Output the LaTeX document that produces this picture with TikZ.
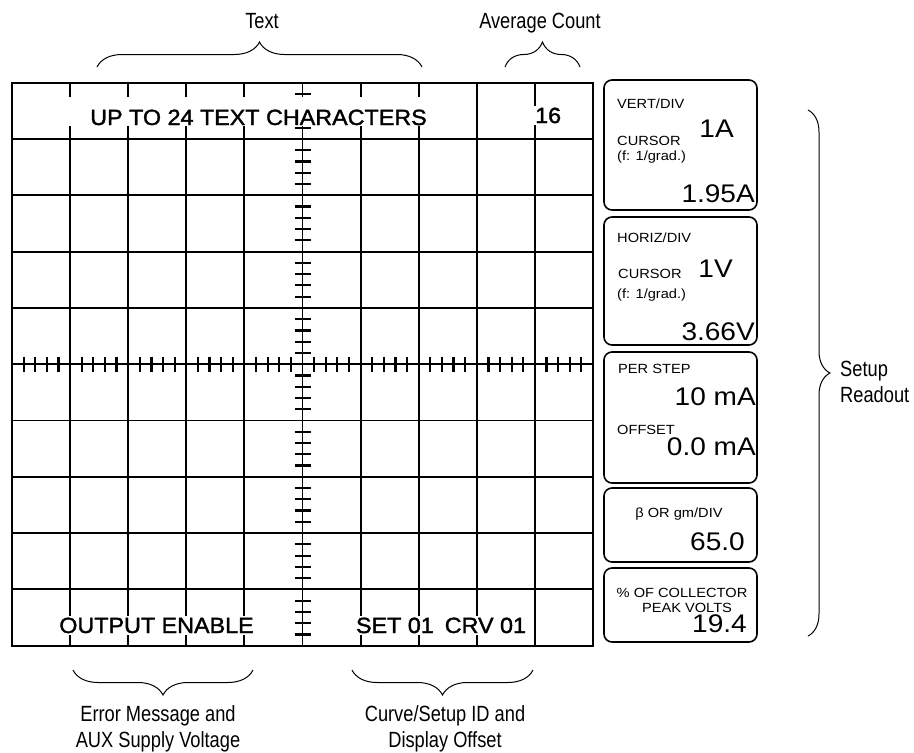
\documentclass[tikz,border=0pt]{standalone}
\usepackage{fontspec}
\setmainfont{Liberation Sans}
\newfontfamily\readfont[FakeStretch=1.1]{Liberation Sans}
\newfontfamily\screenfont[FakeStretch=1.06,FakeBold=1.6]{Liberation Sans}
\newfontfamily\notefont[FakeStretch=0.83]{Liberation Sans}
\usepackage{tikz}
\usetikzlibrary{decorations.pathreplacing,positioning,calc}
\newcommand{\gridsize}{\screenfont\fontsize{22}{24}\selectfont}
\newcommand{\smallread}{\readfont\fontsize{13.3}{15}\selectfont}
\newcommand{\bigread}{\readfont\fontsize{25.5}{28}\selectfont}
\newcommand{\notesize}{\notefont\fontsize{22}{26}\selectfont}
\tikzset{
  gridline/.style={line width=1.9pt},
  tickline/.style={line width=2.2pt},
  readbox/.style={draw,line width=1.6pt,rounded corners=8pt,minimum width=153pt,inner sep=0pt},
  gridtext/.style={fill=white,inner xsep=3pt,inner ysep=2pt,font=\gridsize,anchor=base},
  smalltext/.style={inner sep=0pt,font=\smallread,anchor=base west},
  bigtext/.style={inner sep=0pt,font=\bigread,anchor=base east},
  bracepath/.style={decorate,decoration={brace,amplitude=#1},line width=1pt},
  notetext/.style={inner sep=0pt,font=\notesize,anchor=base,align=center},
}

\begin{document}
\begin{tikzpicture}[x=1pt,y=-1pt]
  \useasboundingbox (0,0) rectangle (914,753);
  % Raster 10 x 10
  \foreach \i in {0,...,10}
    \draw[gridline] ({12+58.1*\i},82.7) -- ({12+58.1*\i},646);
  \foreach \j in {0,...,10}
    \draw[gridline] (12,{82.7+56.3*\j}) -- (593,{82.7+56.3*\j});
  \draw[line width=2.4pt] (12,82.7) rectangle (593,646);
  % Teilstriche auf den Mittelachsen
  \foreach \i in {0,...,9}
    \foreach \k in {1,...,4}{
      \draw[tickline] ({12+58.1*(\i+\k/5)},356.5) -- ++(0,15);
      \draw[tickline] (294.5,{82.7+56.3*(\i+\k/5)}) -- ++(16,0);
    }
  % Texte im Raster
  \node[gridtext,text height=28pt,text depth=1pt,inner xsep=21pt,inner ysep=0pt] (uptext) at (258.5,125) {UP TO 24 TEXT CHARACTERS};
  \node[gridtext,anchor=base west] (avgnum) at (532,123) {16};
  \node[gridtext] (outtext) at (156.5,633) {OUTPUT ENABLE};
  \node[gridtext] (settext) at (441,633) {SET 01\hspace{0.5em}CRV 01};
  % Anzeigefelder rechts
  \node[readbox,minimum height=130pt] (vertbox) at (680.5,145) {};
  \node[smalltext] (vertlbl) at (617,108) {VERT/DIV};
  \node[bigtext] (vertval) at (734,137) {1A};
  \node[smalltext] (vertcur) at (617,145) {CURSOR};
  \node[smalltext] (vertgrad) at (617,160) {(f: 1/grad.)};
  \node[bigtext] (vertread) at (755,202) {1.95A};

  \node[readbox,minimum height=128pt] (horbox) at (680.5,281) {};
  \node[smalltext] (horlbl) at (617,242) {HORIZ/DIV};
  \node[bigtext] (horval) at (733,277) {1V};
  \node[smalltext] (horcur) at (618,278) {CURSOR};
  \node[smalltext] (horgrad) at (617,298) {(f: 1/grad.)};
  \node[bigtext] (horread) at (755,340) {3.66V};

  \node[readbox,minimum height=131pt] (stepbox) at (680.5,417.5) {};
  \node[smalltext] (steplbl) at (618,373) {PER STEP};
  \node[bigtext] (stepval) at (756,405) {10 mA};
  \node[smalltext] (offlbl) at (617,434) {OFFSET};
  \node[bigtext] (offval) at (756,455) {0.0 mA};

  \node[readbox,minimum height=74pt] (betabox) at (680.5,525) {};
  \node[smalltext,anchor=base] (betalbl) at (679,517) {β OR gm/DIV};
  \node[bigtext] (betaval) at (745,550) {65.0};

  \node[readbox,minimum height=74pt] (peakbox) at (680.5,605) {};
  \node[smalltext,anchor=base] (peaklbl) at (682,597) {\% OF COLLECTOR};
  \node[smalltext,anchor=base] (peaklbl2) at (687,612) {PEAK VOLTS};
  \node[bigtext] (peakval) at (747,632) {19.4};
  % Klammern und Beschriftungen
  \coordinate (tb1) at (97,67);   \coordinate (tb2) at (422,67);
  \coordinate (ab1) at (505,67);  \coordinate (ab2) at (580,67);
  \coordinate (eb1) at (253,670); \coordinate (eb2) at (73,670);
  \coordinate (cb1) at (533,670); \coordinate (cb2) at (352,670);
  \coordinate (sb1) at (808,110); \coordinate (sb2) at (808,636);
  \draw[bracepath=25pt] (tb1) -- (tb2);
  \draw[bracepath=25pt] (ab1) -- (ab2);
  \draw[bracepath=25pt] (eb1) -- (eb2);
  \draw[bracepath=25pt] (cb1) -- (cb2);
  \draw[bracepath=22pt] (sb1) -- (sb2);
  \node[notetext] (textlbl) at (262,28) {Text};
  \node[notetext] (avglbl) at (540,28) {Average Count};
  \node[notetext] (errlbl) at (158,747) {Error Message and\\AUX Supply Voltage};
  \node[notetext] (crvlbl) at (445,747) {Curve/Setup ID and\\Display Offset};
  \node[notetext,anchor=base west,align=left] (setuplbl) at (840,402) {Setup\\Readout};
\end{tikzpicture}
\end{document}
